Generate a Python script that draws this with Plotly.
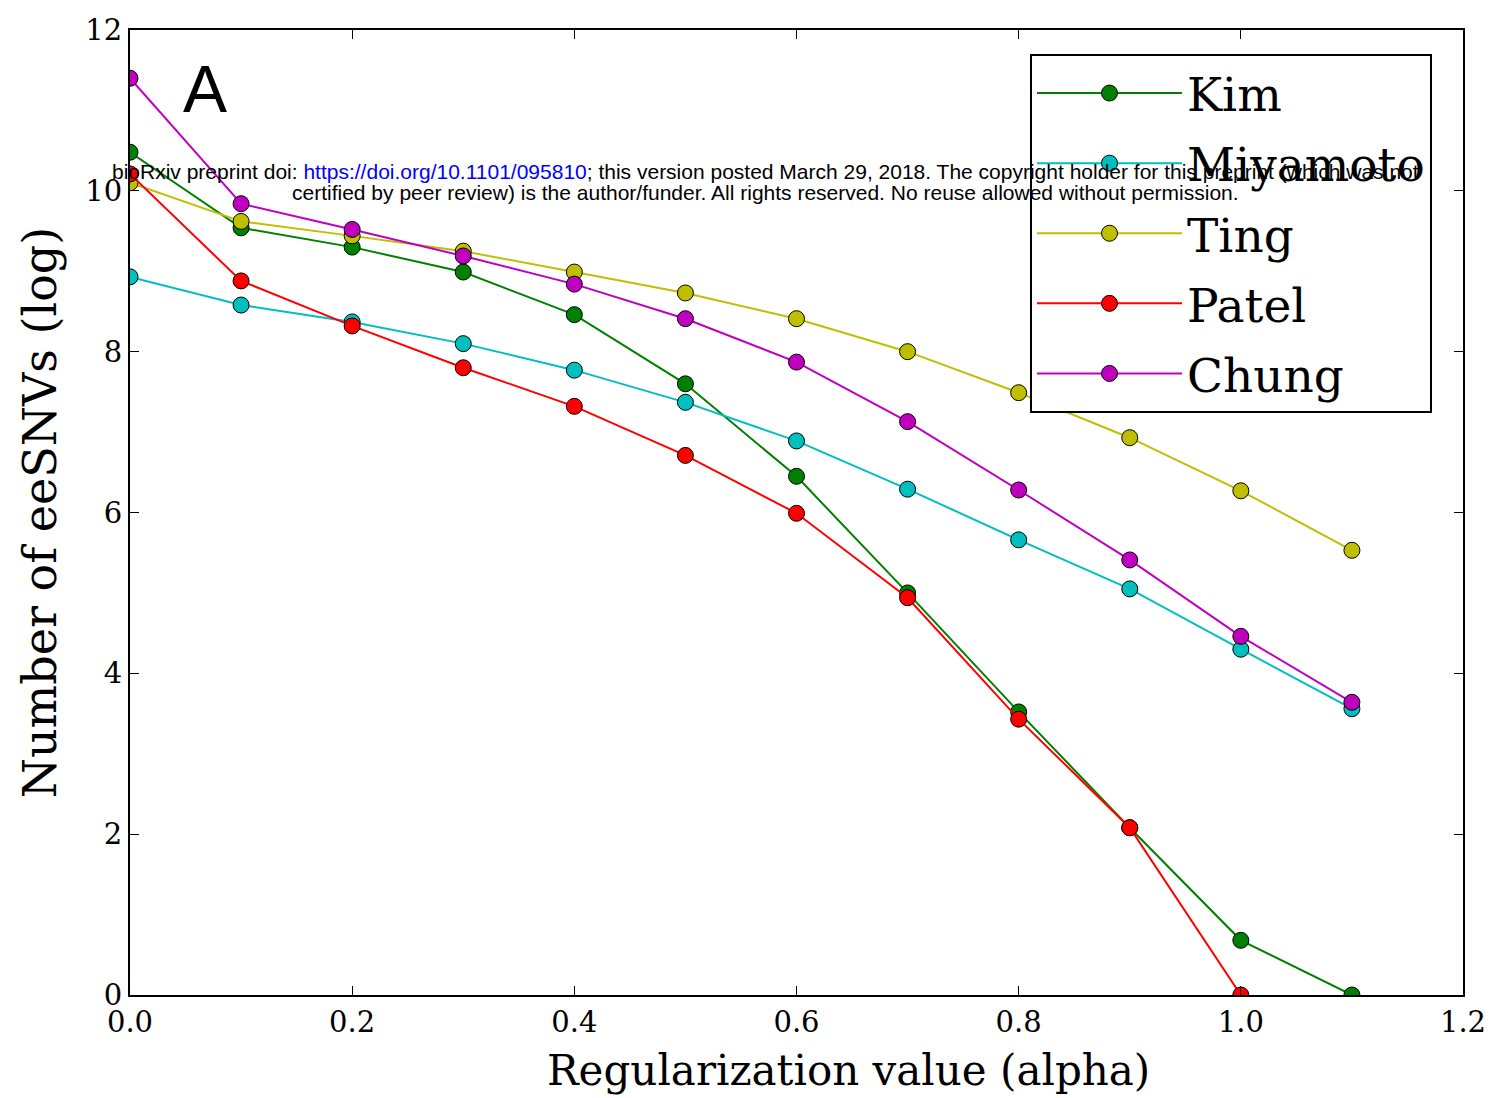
import plotly.graph_objects as go

alpha = [0.0, 0.1, 0.2, 0.3, 0.4, 0.5, 0.6, 0.7, 0.8, 0.9, 1.0, 1.1]
kim = [10.48, 9.54, 9.30, 8.99, 8.46, 7.60, 6.45, 5.00, 3.52, 2.08, 0.68, 0.0]
miyamoto = [8.93, 8.58, 8.37, 8.10, 7.77, 7.37, 6.89, 6.29, 5.66, 5.05, 4.30, 3.56]
ting = [10.10, 9.62, 9.44, 9.25, 8.99, 8.73, 8.41, 8.00, 7.49, 6.93, 6.27, 5.53]
patel_alpha = [0.0, 0.1, 0.2, 0.3, 0.4, 0.5, 0.6, 0.7, 0.8, 0.9, 1.0]
patel = [10.21, 8.88, 8.32, 7.80, 7.32, 6.71, 5.99, 4.94, 3.43, 2.08, 0.0]
chung = [11.40, 9.84, 9.52, 9.19, 8.84, 8.41, 7.87, 7.13, 6.28, 5.41, 4.46, 3.64]

x_ticks = [0, 0.2, 0.4, 0.6, 0.8, 1.0, 1.2]
x_tick_text = ["0.0", "0.2", "0.4", "0.6", "0.8", "1.0", "1.2"]
y_ticks = [0, 2, 4, 6, 8, 10, 12]

series = [
    ("Kim", alpha, kim, "#008000"),
    ("Miyamoto", alpha, miyamoto, "#00BFBF"),
    ("Ting", alpha, ting, "#BFBF00"),
    ("Patel", patel_alpha, patel, "#FF0000"),
    ("Chung", alpha, chung, "#BF00BF"),
]

fig = go.Figure()
for name, xs, ys, col in series:
    fig.add_trace(go.Scatter(
        x=xs, y=ys, name=name, mode="lines+markers", legendgroup=name,
        line=dict(color=col, width=2),
        marker=dict(color=col, size=16, line=dict(color="black", width=1)),
    ))

axis_common = dict(
    showline=True, linecolor="black", linewidth=2, mirror="ticks",
    ticks="inside", ticklen=9, tickcolor="black", tickwidth=1,
    showgrid=False, zeroline=False, automargin=False,
    tickfont=dict(family="DejaVu Serif", size=29, color="black"),
)

L, R, T, B = 130, 1463, 30, 995
W, H = 1491, 1098

def px_to_paper(px, py):
    return (px - L) / (R - L), (B - py) / (B - T)

fig.update_layout(
    width=W, height=H,
    margin=dict(l=L, r=W - R, t=T, b=H - B),
    paper_bgcolor="white", plot_bgcolor="white",
    showlegend=True,
    legend=dict(
        x=px_to_paper(1030, 0)[0], y=px_to_paper(0, 54)[1],
        xanchor="left", yanchor="top",
        bordercolor="black", borderwidth=2, bgcolor="white",
        font=dict(family="DejaVu Serif", size=47, color="black"),
        itemwidth=145, tracegroupgap=6,
    ),
    xaxis=dict(range=[0, 1.2], tickvals=x_ticks, ticktext=x_tick_text, **axis_common),
    yaxis=dict(range=[0, 12], tickvals=y_ticks,
               title=dict(text="Number of eeSNVs (log)",
                          font=dict(family="DejaVu Serif", size=46, color="black"),
                          standoff=14),
               **axis_common),
)

# x-axis title (offset right as in the reference)
xx, yy = px_to_paper(848, 1070)
fig.add_annotation(x=xx, y=yy, xref="paper", yref="paper", xanchor="center", yanchor="middle",
                   text="Regularization value (alpha)", showarrow=False,
                   font=dict(family="DejaVu Serif", size=42, color="black"))

xx, yy = px_to_paper(205, 50)
fig.add_annotation(x=xx, y=yy, xref="paper", yref="paper", xanchor="center", yanchor="top",
                   text="A", showarrow=False,
                   font=dict(family="Liberation Sans", size=66, color="black"))

line1 = ("bioRxiv preprint doi: <span style='color:blue'>https://doi.org/10.1101/095810</span>; "
         "this version posted March 29, 2018. The copyright holder for this preprint (which was not")
line2 = ("certified by peer review) is the author/funder. All rights reserved. "
         "No reuse allowed without permission.")
for txt, ypx in [(line1, 172), (line2, 193)]:
    xx, yy = px_to_paper(765, ypx)
    fig.add_annotation(x=xx, y=yy, xref="paper", yref="paper", xanchor="center", yanchor="middle",
                       text=txt, showarrow=False,
                       font=dict(family="Liberation Sans", size=21, color="black"))

fig.write_html("out.html")
